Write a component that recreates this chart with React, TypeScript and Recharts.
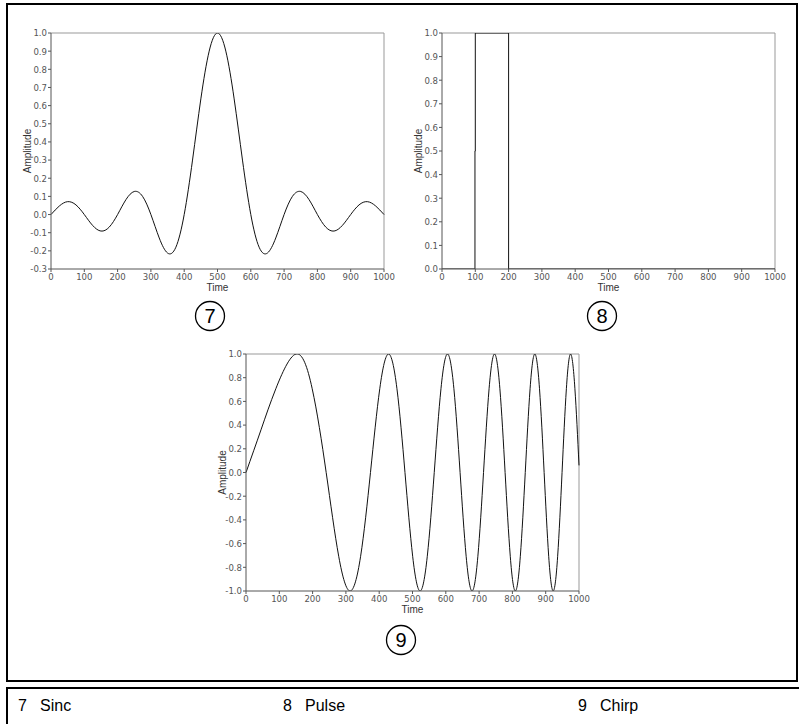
import React from 'react';
import { LineChart, Line, XAxis, YAxis, ReferenceLine } from 'recharts';

// Shared time axis ticks
const timeTicks = [0, 100, 200, 300, 400, 500, 600, 700, 800, 900, 1000];

// Sinc waveform (Time, Amplitude)
const sincTime = [0, 25, 50, 75, 100, 125, 150, 175, 200, 225, 250, 275, 300, 325, 350, 375, 400, 425, 450, 475, 500,
  525, 550, 575, 600, 625, 650, 675, 700, 725, 750, 775, 800, 825, 850, 875, 900, 925, 950, 975, 1000];
const sincAmp = [0, 0.047, 0.071, 0.053, 0, -0.06, -0.091, -0.069, 0, 0.082, 0.127, 0.1, 0, -0.129, -0.212, -0.18, 0, 0.3, 0.637, 0.9, 1,
  0.9, 0.637, 0.3, 0, -0.18, -0.212, -0.129, 0, 0.1, 0.127, 0.082, 0, -0.069, -0.091, -0.06, 0, 0.053, 0.071, 0.047, 0];
const sincTicks = [-0.3, -0.2, -0.1, 0, 0.1, 0.2, 0.3, 0.4, 0.5, 0.6, 0.7, 0.8, 0.9, 1.0];

// Pulse waveform
const pulseTime = [0, 99, 99, 100, 100, 200, 200, 1000];
const pulseAmp = [0, 0, 0.5, 0.5, 1, 1, 0, 0];
const pulseTicks = [0, 0.1, 0.2, 0.3, 0.4, 0.5, 0.6, 0.7, 0.8, 0.9, 1.0];

// Chirp waveform
const chirpTime = [0, 45, 89.6, 150, 198.8, 240.8, 278.4, 312.6, 344.2, 373.8, 401.7, 428.1, 453.3, 477.4, 500.5, 522.8,
  544.4, 565.3, 585.5, 605.1, 624.3, 642.9, 661.1, 678.9, 696.3, 713.3, 730, 746.3, 762.4, 778.1, 793.6, 808.8, 823.8,
  838.6, 853.1, 867.3, 881.4, 895.3, 909, 922.5, 935.9, 949.1, 962.1, 974.9, 987.7, 1000];
const chirpAmp = [0, 0.36, 0.707, 1, 0.707, 0, -0.707, -1, -0.707, 0, 0.707, 1, 0.707, 0, -0.707, -1,
  -0.707, 0, 0.707, 1, 0.707, 0, -0.707, -1, -0.707, 0, 0.707, 1, 0.707, 0, -0.707, -1, -0.707,
  0, 0.707, 1, 0.707, 0, -0.707, -1, -0.707, 0, 0.707, 1, 0.707, 0.06];
const chirpTicks = [-1.0, -0.8, -0.6, -0.4, -0.2, 0, 0.2, 0.4, 0.6, 0.8, 1.0];

// Legend entries
const legendNums = ['7', '8', '9'];
const legendNames = ['Sinc', 'Pulse', 'Chirp'];

const toRows = (t: number[], v: number[]) => t.map((x, i) => ({ t: x, v: v[i] }));

const tickFont = "'Liberation Sans Narrow', 'DejaVu Sans Condensed', 'Liberation Sans', sans-serif";
const labelFont = "'Liberation Sans', Arial, sans-serif";
const tickStyle = { fill: '#555', fontSize: 9.5, fontFamily: tickFont };

const AmpLabel = (props: any) => {
  const vb = props.viewBox || {};
  const x = vb.x + vb.width - 20;
  const y = vb.y + vb.height / 2;
  return (
    <text x={x} y={y} transform={`rotate(-90 ${x} ${y})`} textAnchor="middle" fontSize={10}
      fontFamily={labelFont} fill="#333">Amplitude</text>
  );
};

const TimeLabel = (props: any) => {
  const vb = props.viewBox || {};
  return (
    <text x={vb.x + vb.width / 2} y={vb.y + 22} textAnchor="middle" fontSize={10}
      fontFamily={labelFont} fill="#333">Time</text>
  );
};

type PanelProps = {
  rows: { t: number; v: number }[];
  yTicks: number[];
  yMin: number;
  yMax: number;
  width: number;
  height: number;
  margin: { top: number; right: number; bottom: number; left: number };
  yWidth: number;
  curve: 'natural' | 'linear';
};

const Panel = ({ rows, yTicks, yMin, yMax, width, height, margin, yWidth, curve }: PanelProps) => (
  <LineChart width={width} height={height} data={rows} margin={margin}>
    <XAxis dataKey="t" type="number" domain={[0, 1000]} ticks={timeTicks} interval={0}
      tick={tickStyle} tickSize={3} tickMargin={1} stroke="#555" height={20}
      label={<TimeLabel />} />
    <YAxis type="number" domain={[yMin, yMax]} ticks={yTicks} interval={0} allowDataOverflow
      tickFormatter={(v: number) => v.toFixed(1)} tick={tickStyle} tickSize={3} tickMargin={1}
      stroke="#555" width={yWidth} label={<AmpLabel />} />
    <ReferenceLine y={yMax} stroke="#999" strokeWidth={1} />
    <ReferenceLine x={1000} stroke="#999" strokeWidth={1} />
    <Line dataKey="v" type={curve} stroke="#111" strokeWidth={1} dot={false} activeDot={false}
      isAnimationActive={false} />
  </LineChart>
);

const Badge = ({ x, y, n }: { x: number; y: number; n: string }) => (
  <svg width={36} height={36} style={{ position: 'absolute', left: x - 18, top: y - 18 }}>
    <circle cx={18} cy={18} r={14.5} fill="none" stroke="#000" strokeWidth={1.3} />
    <text x={18} y={25} textAnchor="middle" fontSize={20} fontFamily={labelFont} fill="#000">{n}</text>
  </svg>
);

export default function App() {
  return (
    <div style={{ position: 'absolute', left: 0, top: 0, width: 799, height: 724, background: '#fff', overflow: 'hidden' }}>
      <div style={{ position: 'absolute', left: 6, top: 3, width: 788, height: 675, border: '2px solid #000' }} />

      <div style={{ position: 'absolute', left: 0, top: 0 }}>
        <Panel rows={toRows(sincTime, sincAmp)} yTicks={sincTicks} yMin={-0.3} yMax={1.0}
          width={400} height={300} margin={{ top: 33, right: 16, bottom: 11, left: 0 }} yWidth={51} curve="natural" />
      </div>
      <div style={{ position: 'absolute', left: 400, top: 0 }}>
        <Panel rows={toRows(pulseTime, pulseAmp)} yTicks={pulseTicks} yMin={0} yMax={1.0}
          width={399} height={300} margin={{ top: 33, right: 24, bottom: 11, left: 0 }} yWidth={42} curve="linear" />
      </div>
      <div style={{ position: 'absolute', left: 200, top: 330 }}>
        <Panel rows={toRows(chirpTime, chirpAmp)} yTicks={chirpTicks} yMin={-1.0} yMax={1.0}
          width={400} height={300} margin={{ top: 24, right: 21, bottom: 19, left: 0 }} yWidth={46} curve="natural" />
      </div>

      <Badge x={210} y={316} n={legendNums[0]} />
      <Badge x={602} y={316} n={legendNums[1]} />
      <Badge x={401} y={640} n={legendNums[2]} />

      <div style={{ position: 'absolute', left: 6, top: 687, width: 800, height: 60, border: '2px solid #000' }} />
      {[18, 283, 578].map((x, i) => (
        <div key={legendNames[i]} style={{ position: 'absolute', left: x, top: 696, fontFamily: labelFont, fontSize: 16, lineHeight: '20px', color: '#000', whiteSpace: 'pre' }}>
          {legendNums[i]}<span style={{ position: 'absolute', left: 22 }}>{legendNames[i]}</span>
        </div>
      ))}
    </div>
  );
}
